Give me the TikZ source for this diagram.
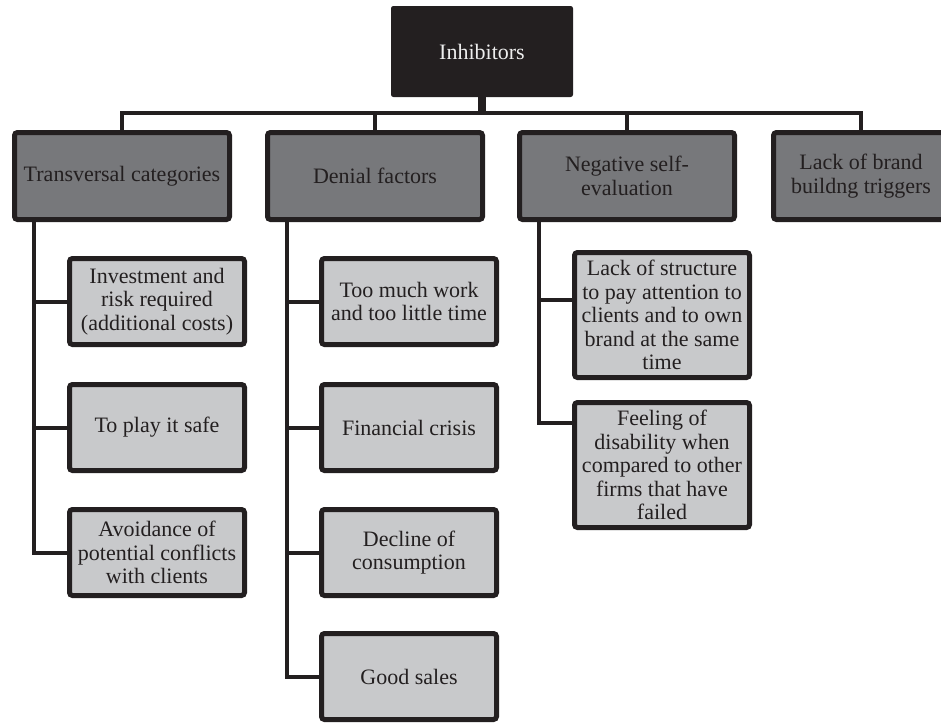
\documentclass[tikz,border=0pt]{standalone}
\usepackage{fontspec}
\setmainfont{Liberation Serif}
\usepackage{tikz}

\definecolor{inkblack}{HTML}{231F20}
\definecolor{catgray}{HTML}{77787B}
\definecolor{itemgray}{HTML}{C8C9CB}
\definecolor{paletext}{HTML}{EEEEEE}

\tikzset{
  every node/.style={font=\fontsize{22}{23.5}\selectfont},
  topbox/.style={draw=inkblack, fill=inkblack, text=paletext, line width=1pt,
    rounded corners=2pt, minimum width=181pt, minimum height=90pt, inner sep=2pt},
  catbox/.style={draw=inkblack, fill=catgray, text=inkblack, line width=5pt,
    rounded corners=3pt, minimum width=215pt, minimum height=87pt, inner sep=2pt, align=center},
  itembox/.style={draw=inkblack, fill=itemgray, text=inkblack, line width=5pt,
    rounded corners=3pt, minimum width=175pt, minimum height=86pt, inner sep=2pt, align=center},
  link/.style={draw=inkblack, line width=4pt},
  stem/.style={draw=inkblack, line width=8pt},
}

\begin{document}
\begin{tikzpicture}[x=1pt,y=-1pt]
    \useasboundingbox (0,0) rectangle (941,723);

    % top
    \node[topbox] (inhib) at (482,51.5) {Inhibitors};

    % categories
    \node[catbox] (trans) at (122,176) {Transversal categories};
    \node[catbox] (denial) at (375,176) {Denial factors};
    \node[catbox] (neg) at (627,176) {Negative self-\\evaluation};
    \node[catbox, minimum width=175pt] (brand) at (861,176) {Lack of brand\\buildng triggers};

    % items
    \node[itembox] (inv) at (157,301.5) {Investment and\\risk required\\(additional costs)};
    \node[itembox] (safe) at (157,427.5) {To play it safe};
    \node[itembox] (avoid) at (157,552.5) {Avoidance of\\potential conflicts\\with clients};

    \node[itembox] (work) at (409,301.5) {Too much work\\and too little time};
    \node[itembox] (crisis) at (409,427.5) {Financial crisis};
    \node[itembox] (decline) at (409,552.5) {Decline of\\consumption};
    \node[itembox] (sales) at (409,676.5) {Good sales};

    \node[itembox, minimum height=125pt] (lack) at (662,315) {Lack of structure\\to pay attention to\\clients and to own\\brand at the same\\time};
    \node[itembox, minimum height=125pt] (feel) at (662,465) {Feeling of\\disability when\\compared to other\\firms that have\\failed};

    % connectors
    \coordinate (bus) at (0,113);
    \draw[stem] (inhib.south) -- (inhib.south |- bus);
    \draw[link] (trans.north) |- (brand.north |- bus) -- (brand.north);
    \draw[link] (denial.north) -- (denial.north |- bus);
    \draw[link] (neg.north) -- (neg.north |- bus);

    \coordinate (tdrop) at ([xshift=21.5pt]trans.south west);
    \coordinate (ddrop) at ([xshift=21.5pt]denial.south west);
    \coordinate (ndrop) at ([xshift=21.5pt]neg.south west);
    \foreach \kid in {inv,safe,avoid}
      \draw[link] (tdrop) |- (\kid.west);
    \foreach \kid in {work,crisis,decline,sales}
      \draw[link] (ddrop) |- (\kid.west);
    \draw[link] (ndrop) |- ([yshift=15pt]lack.west);
    \draw[link] (ndrop) |- ([yshift=42pt]feel.west);
\end{tikzpicture}
\end{document}
